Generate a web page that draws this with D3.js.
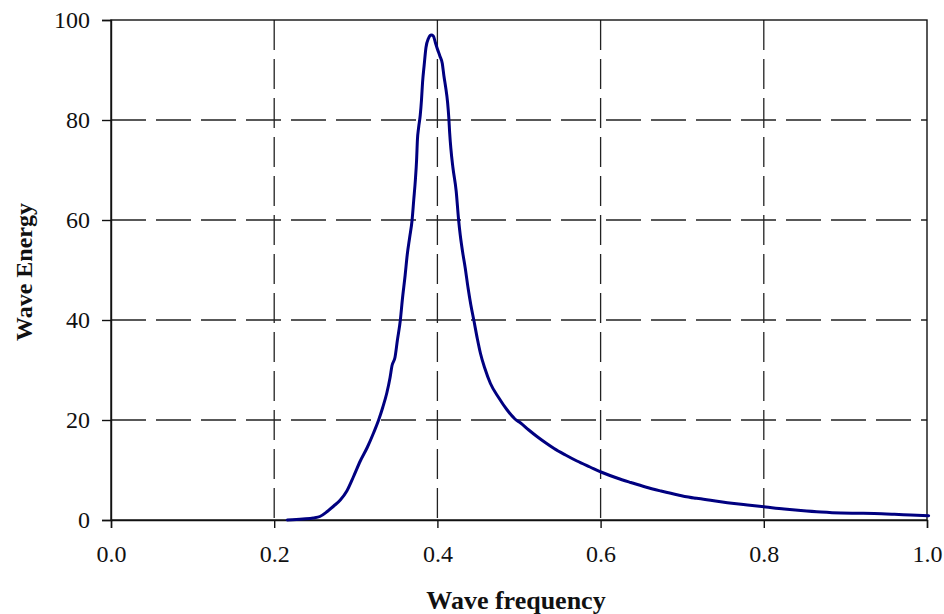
<!DOCTYPE html>
<html>
<head>
<meta charset="utf-8">
<script src="https://cdn.jsdelivr.net/npm/d3@7"></script>
<style>
  html, body { margin: 0; padding: 0; background: #fff; }
  svg { display: block; }
  .tick text { font-family: "Liberation Serif", "Times New Roman", serif; font-size: 24px; fill: #111; }
  .title { font-family: "Liberation Serif", "Times New Roman", serif; font-size: 24px; font-weight: bold; fill: #111; }
</style>
</head>
<body>
<svg id="chart" width="944" height="614"></svg>
<script>
// Wave energy spectrum: frequency vs. energy
const frequency = [
  0.216, 0.235, 0.248, 0.256, 0.265, 0.273, 0.281, 0.289, 0.297, 0.3055,
  0.314, 0.322, 0.328, 0.333, 0.338, 0.342, 0.3444, 0.348, 0.351, 0.3546,
  0.357, 0.3605, 0.363, 0.366, 0.369, 0.371, 0.373, 0.3745, 0.3755, 0.377,
  0.3790, 0.3805, 0.3818, 0.3838, 0.386, 0.389, 0.3925, 0.395, 0.3975, 0.400,
  0.403, 0.406, 0.408, 0.410, 0.4125, 0.414, 0.415, 0.4165, 0.419, 0.423,
  0.426, 0.428, 0.431, 0.434, 0.4375, 0.441, 0.4446, 0.449, 0.4528, 0.458,
  0.465, 0.475, 0.4855, 0.495, 0.502, 0.512, 0.522, 0.533, 0.543, 0.557,
  0.571, 0.587, 0.602, 0.620, 0.637, 0.655, 0.674, 0.695, 0.7145, 0.720,
  0.745, 0.7636, 0.780, 0.8025, 0.825, 0.8454, 0.870, 0.8945, 0.915, 0.9353,
  0.960, 0.980, 1.002
];
const energy = [
  0.0, 0.2, 0.4, 0.7, 1.7, 2.8, 4.0, 5.8, 8.6, 11.8,
  14.5, 17.5, 20.0, 22.5, 25.4, 28.5, 30.9, 32.5, 36.0, 40.0,
  44.0, 49.0, 53.0, 56.5, 60.0, 64.0, 68.0, 72.0, 76.0, 78.5,
  81.0, 84.0, 87.5, 91.0, 94.5, 96.3, 97.0, 96.8, 95.5, 94.2,
  92.8, 91.3, 88.8, 86.7, 83.5, 80.4, 77.5, 74.3, 70.5, 65.8,
  60.0, 57.0, 53.5, 50.5, 46.5, 43.0, 40.0, 36.2, 33.3, 30.4,
  27.3, 24.5, 22.0, 20.2, 19.4, 18.0, 16.7, 15.4, 14.3, 13.0,
  11.8, 10.6, 9.5, 8.4, 7.5, 6.6, 5.8, 5.0, 4.4, 4.3,
  3.7, 3.3, 3.0, 2.6, 2.2, 1.9, 1.6, 1.4, 1.35, 1.3,
  1.15, 1.0, 0.85
];
const xTicks = [0.0, 0.2, 0.4, 0.6, 0.8, 1.0];
const yTicks = [0, 20, 40, 60, 80, 100];
const xTitle = "Wave frequency";
const yTitle = "Wave Energy";

const W = 944, H = 614;
const margin = { top: 20, right: 17, bottom: 94, left: 111 };
const iw = W - margin.left - margin.right;
const ih = H - margin.top - margin.bottom;

const svg = d3.select("#chart");
const g = svg.append("g").attr("transform", `translate(${margin.left},${margin.top})`);

const x = d3.scaleLinear().domain([0, 1]).range([0, iw]);
const y = d3.scaleLinear().domain([0, 100]).range([ih, 0]);

// dashed grid (interior lines only; the frame closes the outer edges)
g.append("g").selectAll("line.hgrid")
  .data(yTicks.filter(v => v > 0 && v < 100))
  .join("line")
  .attr("x1", 0).attr("x2", iw)
  .attr("y1", d => y(d)).attr("y2", d => y(d))
  .attr("stroke", "#222").attr("stroke-width", 1.3)
  .attr("stroke-dasharray", "35,10");

g.append("g").selectAll("line.vgrid")
  .data(xTicks.filter(v => v > 0 && v < 1))
  .join("line")
  .attr("x1", d => x(d)).attr("x2", d => x(d))
  .attr("y1", 0).attr("y2", ih)
  .attr("stroke", "#222").attr("stroke-width", 1.3)
  .attr("stroke-dasharray", "30,9");

// plot frame
g.append("rect")
  .attr("x", 0).attr("y", 0).attr("width", iw).attr("height", ih)
  .attr("fill", "none").attr("stroke", "#111").attr("stroke-width", 1.4);

// axes
const xAxis = g.append("g")
  .attr("transform", `translate(0,${ih})`)
  .call(d3.axisBottom(x).tickValues(xTicks).tickFormat(d3.format(".1f")).tickSize(8).tickPadding(17));
const yAxis = g.append("g")
  .call(d3.axisLeft(y).tickValues(yTicks).tickFormat(d3.format("d")).tickSize(9).tickPadding(12));
[xAxis, yAxis].forEach(a => {
  a.select(".domain").attr("stroke", "#111").attr("stroke-width", 1.4);
  a.selectAll(".tick line").attr("stroke", "#111").attr("stroke-width", 1.4);
  a.selectAll(".tick text").attr("fill", "#111").attr("font-size", null).attr("font-family", null);
});

// spectrum curve
const pts = frequency.map((f, i) => [f, energy[i]]);
const line = d3.line().x(d => x(d[0])).y(d => y(d[1])).curve(d3.curveMonotoneX);
g.append("path")
  .datum(pts)
  .attr("d", line)
  .attr("fill", "none")
  .attr("stroke", "#000080")
  .attr("stroke-width", 3)
  .attr("stroke-linejoin", "round")
  .attr("stroke-linecap", "round");

// axis titles
svg.append("text")
  .attr("class", "title")
  .attr("x", margin.left + x(0.5) - 3)
  .attr("y", 609)
  .attr("text-anchor", "middle")
  .style("font-size", "26px")
  .text(xTitle);

svg.append("text")
  .attr("class", "title")
  .attr("transform", `translate(32,${272}) rotate(-90)`)
  .attr("text-anchor", "middle")
  .text(yTitle);
</script>
</body>
</html>
